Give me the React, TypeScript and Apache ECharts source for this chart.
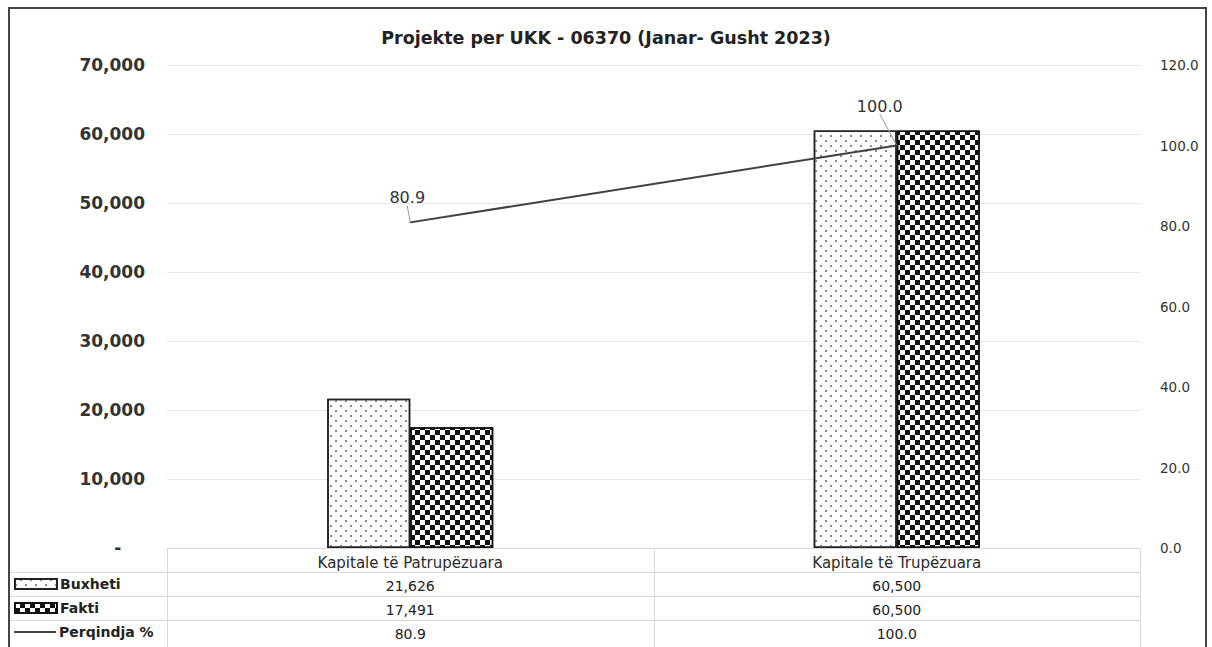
import React, { useEffect, useRef } from "react";
import * as echarts from "echarts";

const title = "Projekte per UKK - 06370 (Janar- Gusht 2023)";
const categories = ["Kapitale të Patrupëzuara", "Kapitale të Trupëzuara"];
const buxheti = [21626, 60500];
const fakti = [17491, 60500];
const perqindja = [80.9, 100.0];
const seriesNames = ["Buxheti", "Fakti", "Perqindja %"];
const leftAxis = { min: 0, max: 70000, interval: 10000 };
const rightAxis = { min: 0, max: 120, interval: 20 };

const FONT = "DejaVu Sans";
const W = 1212;
const H = 647;
const GRID_LEFT = 167;
const GRID_RIGHT_X = 1140;
const GRID_TOP = 65;
const GRID_BOTTOM_Y = 548;
const ROW = 24;

const fmtInt = (v: number) => v.toLocaleString("en-US");

export default function App() {
  const ref = useRef<HTMLDivElement>(null);
  useEffect(() => {
    if (!ref.current) return;
    const chart = echarts.init(ref.current, null, { renderer: "svg" });
    const tableRows = [buxheti.map(fmtInt), fakti.map(fmtInt), perqindja.map((v) => v.toFixed(1))];
    const labelShift = [
      { dx: -3, dy: -10 },
      { dx: -17, dy: -25 },
    ];
    const lineColor = "#d9d9d9";
    const graphics: any[] = [
      {
        type: "rect",
        shape: { x: 9, y: 8, width: 1197, height: 670 },
        style: { fill: "none", stroke: "#444", lineWidth: 2 },
        silent: true,
      },
    ];
    for (let i = 1; i <= 3; i++) {
      const y = GRID_BOTTOM_Y + ROW * i + 0.5;
      graphics.push({
        type: "line",
        shape: { x1: 10, y1: y, x2: GRID_RIGHT_X, y2: y },
        style: { stroke: lineColor, lineWidth: 1 },
        silent: true,
      });
    }
    const catW = (GRID_RIGHT_X - GRID_LEFT) / categories.length;
    for (let i = 0; i <= categories.length; i++) {
      const x = Math.round(GRID_LEFT + catW * i) + 0.5;
      graphics.push({
        type: "line",
        shape: { x1: x, y1: GRID_BOTTOM_Y, x2: x, y2: H },
        style: { stroke: lineColor, lineWidth: 1 },
        silent: true,
      });
    }

    const legendBase = {
      orient: "horizontal",
      left: 14,
      padding: 0,
      itemWidth: 42,
      itemHeight: 10,
      selectedMode: false,
      textStyle: { fontFamily: FONT, fontSize: 14, fontWeight: "bold", color: "#222", padding: [0, 0, 0, -2] },
    };

    chart.setOption({
      animation: false,
      backgroundColor: "#fff",
      textStyle: { fontFamily: FONT },
      title: {
        text: title,
        left: "center",
        top: 24,
        textStyle: { fontFamily: FONT, fontSize: 17.5, fontWeight: "bold", color: "#222" },
      },
      legend: [
        { ...legendBase, top: GRID_BOTTOM_Y + ROW * 1 + 5, data: [{ name: seriesNames[0], icon: "rect" }] },
        { ...legendBase, top: GRID_BOTTOM_Y + ROW * 2 + 5, data: [{ name: seriesNames[1], icon: "rect" }] },
        {
          ...legendBase,
          top: GRID_BOTTOM_Y + ROW * 3 + 5,
          itemHeight: 2,
          data: [{ name: seriesNames[2], icon: "rect" }],
          itemStyle: { color: "#404040", borderWidth: 0 },
        },
      ],
      grid: {
        left: GRID_LEFT,
        right: W - GRID_RIGHT_X,
        top: GRID_TOP,
        bottom: H - GRID_BOTTOM_Y,
        containLabel: false,
      },
      xAxis: [
        {
          type: "category",
          data: categories,
          axisLine: { show: true, lineStyle: { color: lineColor } },
          axisTick: { show: false },
          axisLabel: { interval: 0, margin: 7, fontFamily: FONT, fontSize: 15, color: "#2a2a2a" },
        },
        ...tableRows.map((row, i) => ({
          type: "category",
          position: "bottom",
          offset: ROW * (i + 1),
          data: row,
          axisLine: { show: false },
          axisTick: { show: false },
          axisLabel: { interval: 0, margin: 7, fontFamily: FONT, fontSize: 14, color: "#222" },
        })),
      ],
      yAxis: [
        {
          type: "value",
          ...leftAxis,
          axisLine: { show: false },
          axisTick: { show: false },
          axisLabel: {
            margin: 22,
            fontFamily: FONT,
            fontSize: 17,
            fontWeight: "bold",
            color: "#333",
            formatter: (v: number) => (v === 0 ? "-    " : fmtInt(v)),
          },
          splitLine: { show: true, lineStyle: { color: "#e6e6e6", width: 1 } },
        },
        {
          type: "value",
          ...rightAxis,
          position: "right",
          axisLine: { show: false },
          axisTick: { show: false },
          axisLabel: {
            margin: 20,
            fontFamily: FONT,
            fontSize: 13.5,
            color: "#333",
            formatter: (v: number) => v.toFixed(1),
          },
          splitLine: { show: false },
        },
      ],
      series: [
        {
          name: seriesNames[0],
          type: "bar",
          data: buxheti,
          barWidth: 83,
          barGap: "0%",
          itemStyle: {
            color: "#fff",
            borderColor: "#222",
            borderWidth: 1.5,
            decal: {
              symbol: "rect",
              symbolSize: 1,
              color: "#8a8a8a",
              dashArrayX: [[1.5, 7.5], [0, 4.5, 1.5, 3]],
              dashArrayY: [1.5, 3],
            },
          },
        },
        {
          name: seriesNames[1],
          type: "bar",
          data: fakti,
          barWidth: 83,
          barGap: "0%",
          itemStyle: {
            color: "#fff",
            borderColor: "#111",
            borderWidth: 1.5,
            decal: {
              symbol: "rect",
              symbolSize: 1,
              color: "#111",
              dashArrayX: [[5, 5], [0, 5, 5, 0]],
              dashArrayY: [5, 0],
            },
          },
        },
        {
          name: seriesNames[2],
          type: "line",
          yAxisIndex: 1,
          data: perqindja,
          symbol: "circle",
          symbolSize: 1,
          showSymbol: true,
          lineStyle: { color: "#404040", width: 2 },
          itemStyle: { color: "#404040" },
          label: {
            show: true,
            position: "top",
            distance: 6,
            fontFamily: FONT,
            fontSize: 16,
            color: "#333",
            formatter: (p: any) => Number(p.value).toFixed(1),
          },
          labelLayout: (p: any) => labelShift[p.dataIndex] ?? { dx: 0, dy: 0 },
          labelLine: { show: true, lineStyle: { color: "#999", width: 1 } },
        },
      ],
      graphic: graphics,
    });
    return () => chart.dispose();
  }, []);
  return <div ref={ref} style={{ position: "fixed", left: 0, top: 0, width: W, height: H }} />;
}
